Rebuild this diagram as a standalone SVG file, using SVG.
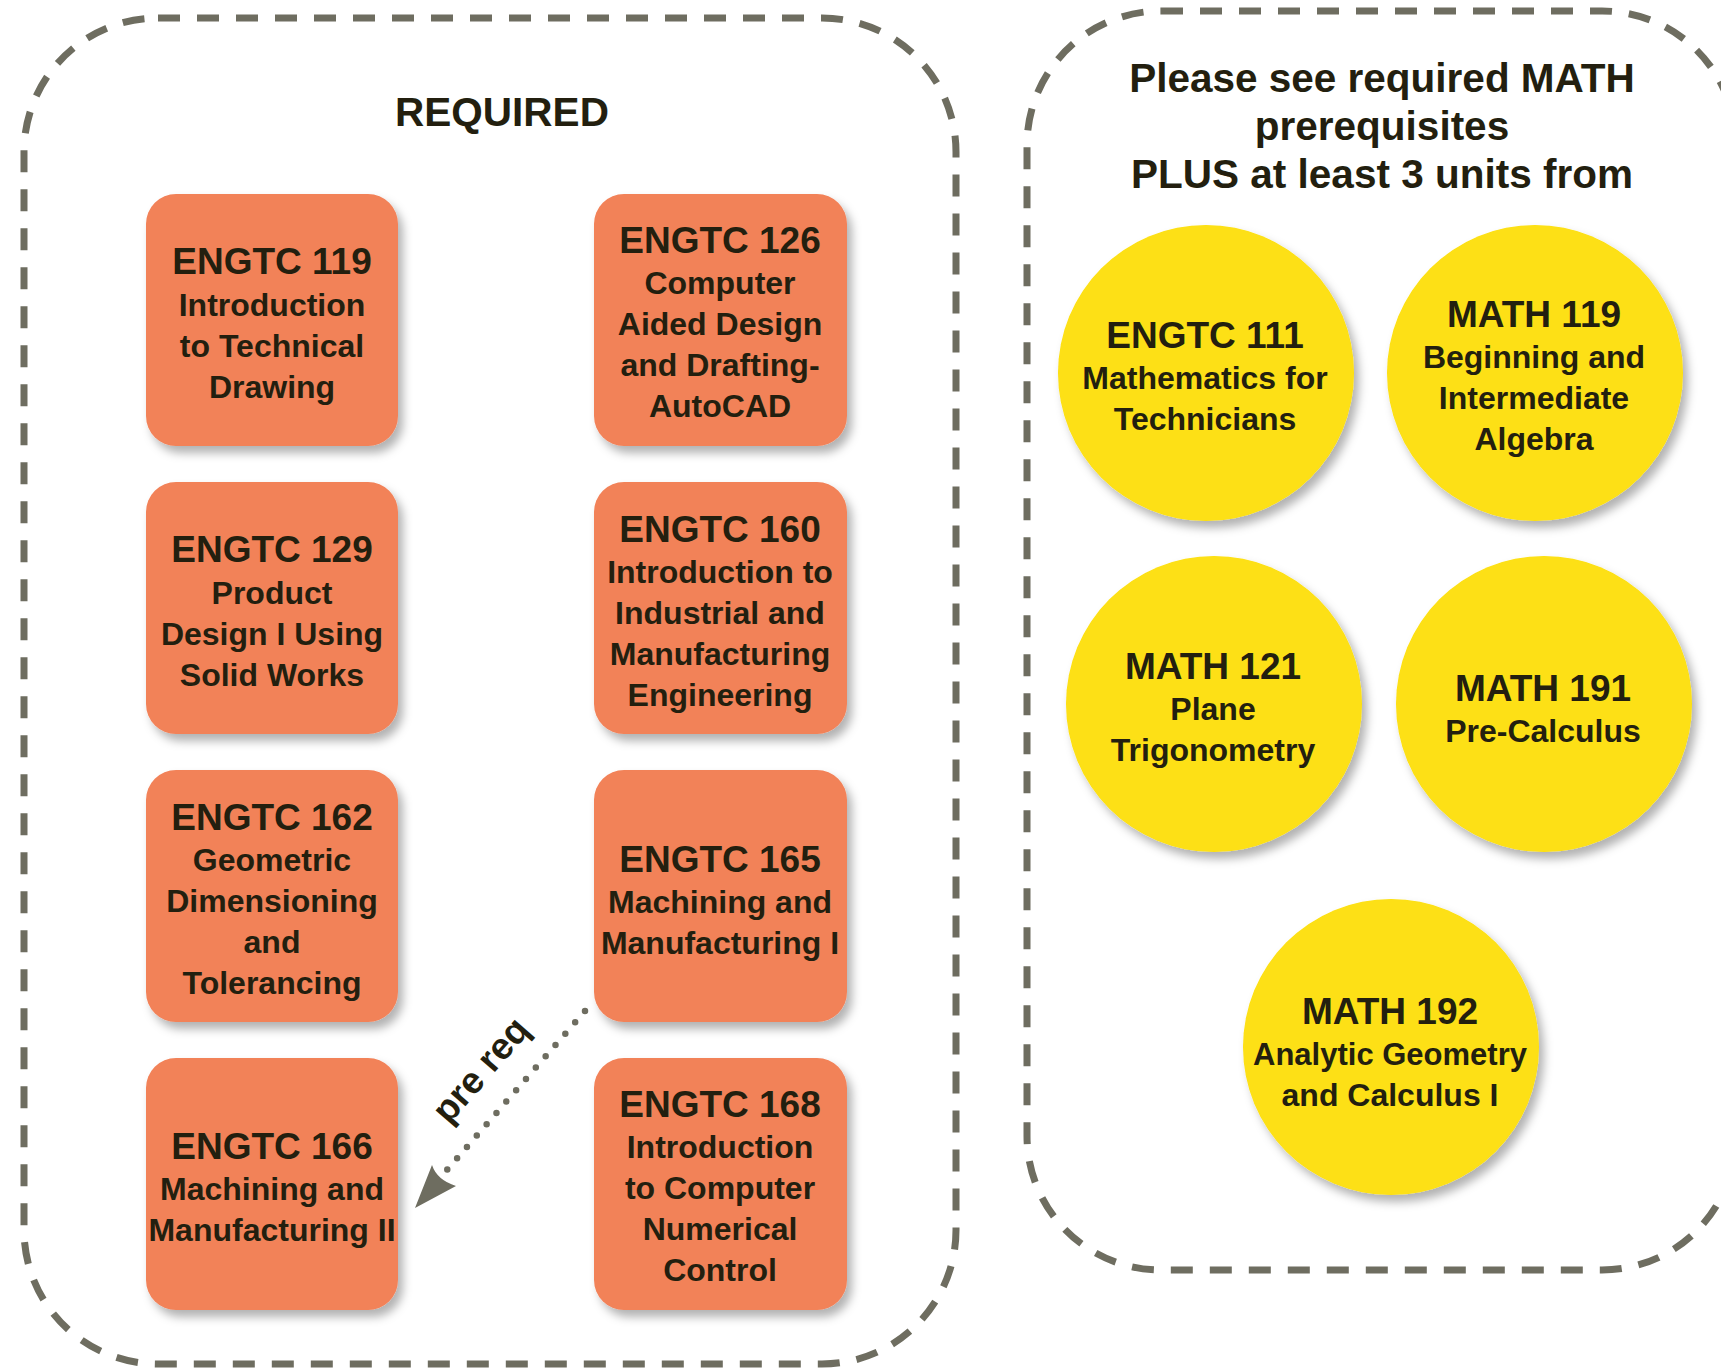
<svg xmlns="http://www.w3.org/2000/svg" width="1721" height="1369" viewBox="0 0 1721 1369">
<style>
.frame{fill:none;stroke:#6e6d60;stroke-width:7;stroke-dasharray:22 17}
.box{fill:#f28259;filter:url(#sh)}
.circ{fill:#fde012;filter:url(#sh)}
text{font-family:"Liberation Sans",Arial,sans-serif;font-weight:bold;fill:#231f0f;text-anchor:middle}
.t{font-size:37px}
.b{font-size:32px}
.h{font-size:40.5px}
</style>
<defs>
<filter id="sh" x="-20%" y="-20%" width="150%" height="150%">
<feDropShadow dx="5" dy="7" stdDeviation="5" flood-color="#000" flood-opacity="0.3"/>
</filter>
</defs>
<rect width="1721" height="1369" fill="#fff"/>
<g id="required-frame">
<rect class="frame" x="24" y="18" width="932" height="1346" rx="134" ry="134"/>
<text class="h" x="502" y="126">REQUIRED</text>
</g>
<g id="math-frame">
<rect class="frame" x="1027" y="11" width="709" height="1259" rx="134" ry="134"/>
<text class="h" x="1382" y="92">Please see required MATH</text>
<text class="h" x="1382" y="140">prerequisites</text>
<text class="h" x="1382" y="188">PLUS at least 3 units from</text>
</g>
<g id="engtc119">
<rect class="box" x="146" y="194" width="252" height="252" rx="30"/>
<text class="t" x="272" y="274">ENGTC 119</text>
<text class="b" x="272" y="316">Introduction</text>
<text class="b" x="272" y="357">to Technical</text>
<text class="b" x="272" y="398">Drawing</text>
</g>
<g id="engtc126">
<rect class="box" x="594" y="194" width="253" height="252" rx="30"/>
<text class="t" x="720" y="253">ENGTC 126</text>
<text class="b" x="720" y="294">Computer</text>
<text class="b" x="720" y="335">Aided Design</text>
<text class="b" x="720" y="376">and Drafting-</text>
<text class="b" x="720" y="417">AutoCAD</text>
</g>
<g id="engtc129">
<rect class="box" x="146" y="482" width="252" height="252" rx="30"/>
<text class="t" x="272" y="562">ENGTC 129</text>
<text class="b" x="272" y="604">Product</text>
<text class="b" x="272" y="645">Design I Using</text>
<text class="b" x="272" y="686">Solid Works</text>
</g>
<g id="engtc160">
<rect class="box" x="594" y="482" width="253" height="252" rx="30"/>
<text class="t" x="720" y="542">ENGTC 160</text>
<text class="b" x="720" y="583">Introduction to</text>
<text class="b" x="720" y="624">Industrial and</text>
<text class="b" x="720" y="665">Manufacturing</text>
<text class="b" x="720" y="706">Engineering</text>
</g>
<g id="engtc162">
<rect class="box" x="146" y="770" width="252" height="252" rx="30"/>
<text class="t" x="272" y="830">ENGTC 162</text>
<text class="b" x="272" y="871">Geometric</text>
<text class="b" x="272" y="912">Dimensioning</text>
<text class="b" x="272" y="953">and</text>
<text class="b" x="272" y="994">Tolerancing</text>
</g>
<g id="engtc165">
<rect class="box" x="594" y="770" width="253" height="252" rx="30"/>
<text class="t" x="720" y="872">ENGTC 165</text>
<text class="b" x="720" y="913">Machining and</text>
<text class="b" x="720" y="954">Manufacturing I</text>
</g>
<g id="engtc166">
<rect class="box" x="146" y="1058" width="252" height="252" rx="30"/>
<text class="t" x="272" y="1159">ENGTC 166</text>
<text class="b" x="272" y="1200">Machining and</text>
<text class="b" x="272" y="1241">Manufacturing II</text>
</g>
<g id="engtc168">
<rect class="box" x="594" y="1058" width="253" height="252" rx="30"/>
<text class="t" x="720" y="1117">ENGTC 168</text>
<text class="b" x="720" y="1158">Introduction</text>
<text class="b" x="720" y="1199">to Computer</text>
<text class="b" x="720" y="1240">Numerical</text>
<text class="b" x="720" y="1281">Control</text>
</g>
<g id="engtc111">
<circle class="circ" cx="1206" cy="373" r="148"/>
<text class="t" x="1205" y="348">ENGTC 111</text>
<text class="b" x="1205" y="389">Mathematics for</text>
<text class="b" x="1205" y="430">Technicians</text>
</g>
<g id="math119">
<circle class="circ" cx="1535" cy="373" r="148"/>
<text class="t" x="1534" y="327">MATH 119</text>
<text class="b" x="1534" y="368">Beginning and</text>
<text class="b" x="1534" y="409">Intermediate</text>
<text class="b" x="1534" y="450">Algebra</text>
</g>
<g id="math121">
<circle class="circ" cx="1214" cy="704" r="148"/>
<text class="t" x="1213" y="679">MATH 121</text>
<text class="b" x="1213" y="720">Plane</text>
<text class="b" x="1213" y="761">Trigonometry</text>
</g>
<g id="math191">
<circle class="circ" cx="1544" cy="704" r="148"/>
<text class="t" x="1543" y="701">MATH 191</text>
<text class="b" x="1543" y="742">Pre-Calculus</text>
</g>
<g id="math192">
<circle class="circ" cx="1391" cy="1047" r="148"/>
<text class="t" x="1390" y="1024">MATH 192</text>
<text class="b" x="1390" y="1065" textLength="274" lengthAdjust="spacingAndGlyphs">Analytic Geometry</text>
<text class="b" x="1390" y="1106">and Calculus I</text>
</g>
<g id="connectors">
<line x1="585" y1="1011" x2="446" y2="1171" stroke="#6e6d60" stroke-width="6.5" stroke-linecap="round" stroke-dasharray="0 15"/>
<path d="M415,1208 L432,1165 Q437,1180 456,1186 Z" fill="#6e6d60"/>
<text x="490" y="1078" font-size="37" transform="rotate(-49 490 1078)">pre req</text>
</g>
</svg>
